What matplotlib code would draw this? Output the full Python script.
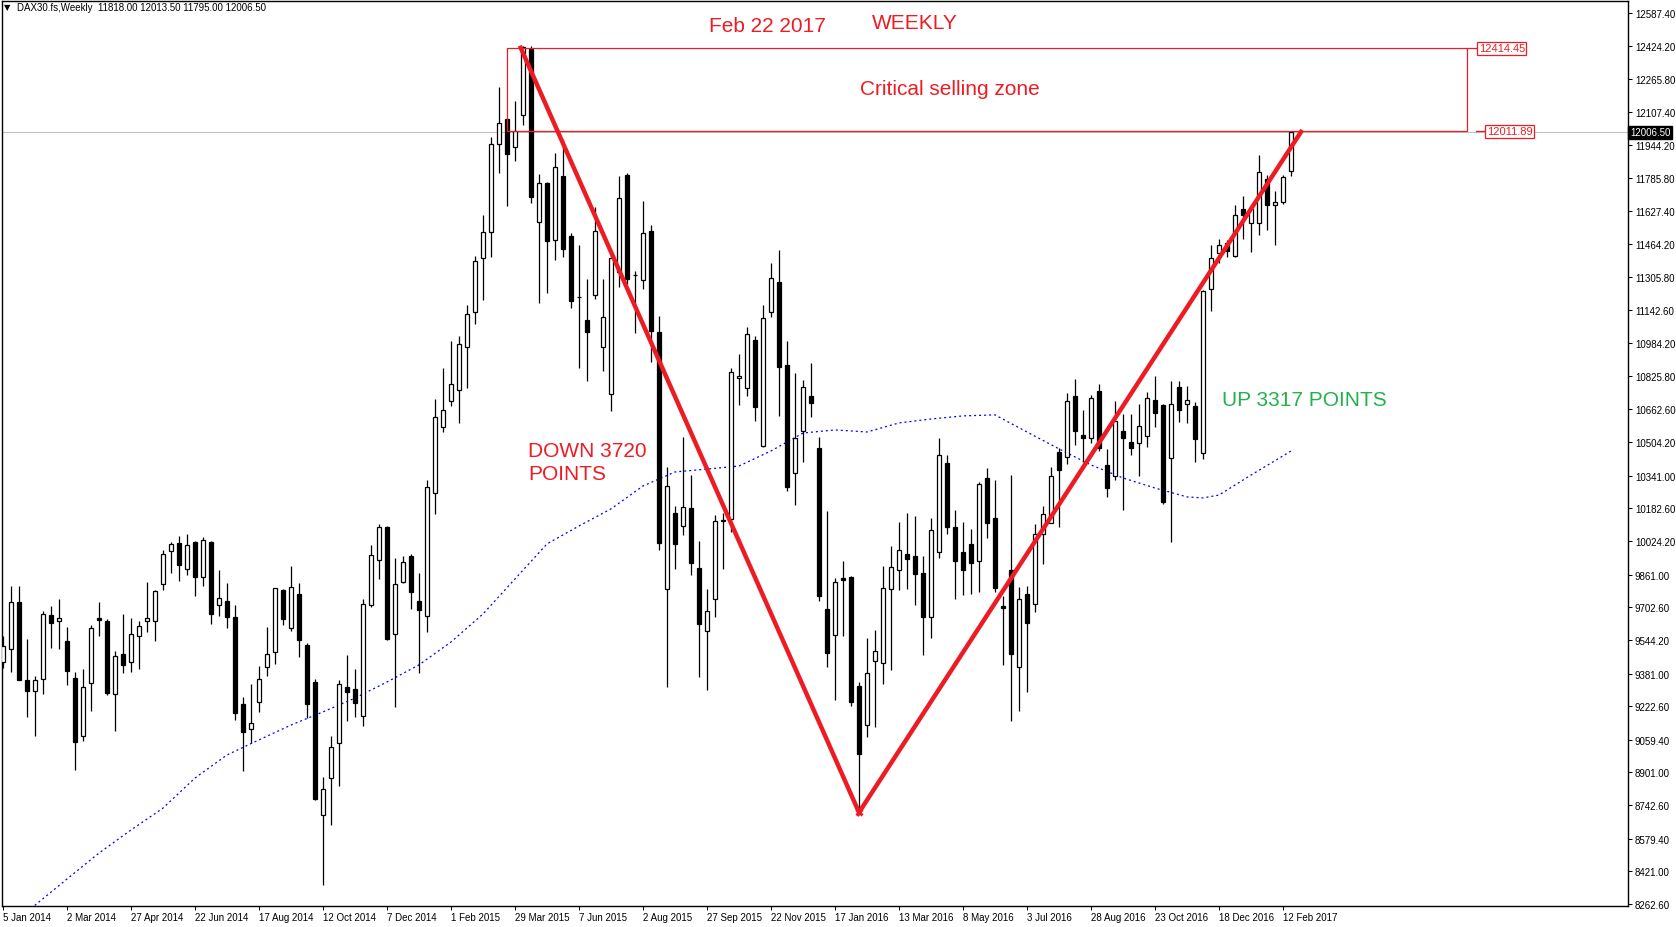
import matplotlib
matplotlib.use("Agg")
import matplotlib.pyplot as plt
import matplotlib.transforms as mtransforms
from matplotlib.patches import Rectangle

plt.rcParams['font.family'] = ['Liberation Sans', 'DejaVu Sans']

# weekly DAX30 candles, bar 0 = 5 Jan 2014
opens = [9436, 9499, 9728, 9350, 9295, 9353, 9663, 9634, 9537, 9358,
         9076, 9337, 9650, 9637, 9280, 9474, 9436, 9565, 9634, 9634,
         9814, 9974, 10014, 9887, 10019, 9851, 10019, 9712, 9733, 9655,
         9233, 9110, 9241, 9411, 9484, 9786, 9600, 9767, 9519, 9340,
         8693, 8872, 9042, 9316, 9304, 9174, 9712, 9930, 10092, 9571,
         9824, 9951, 9733, 9659, 10258, 10576, 10702, 10756, 10964, 11134,
         11398, 11521, 11949, 12072, 11934, 12090, 12411, 11571, 11761, 11483,
         11795, 11504, 11208, 11096, 11217, 10964, 10736, 11327, 11800, 11317,
         11289, 11527, 11037, 9790, 10158, 10099, 10184, 9891, 9586, 9741,
         10123, 10131, 10815, 10765, 11000, 10484, 11134, 11281, 10878, 10353,
         10556, 10728, 10475, 9694, 9569, 9845, 9850, 9321, 9130, 9440,
         9431, 9790, 9882, 9961, 9950, 9867, 9654, 9969, 10401, 10090,
         9969, 10010, 9929, 10328, 10136, 9709, 9882, 9411, 9766, 9717,
         10057, 10113, 10456, 10430, 10728, 10537, 10522, 10753, 10391, 10338,
         10556, 10503, 10498, 10532, 10708, 10684, 10428, 10770, 10687, 10679,
         10451, 11245, 11420, 11470, 11408, 11635, 11568, 11566, 11779, 11653,
         11668, 11818]
highs = [9565, 9806, 9806, 9549, 9369, 9684, 9709, 9743, 9607, 9388,
         9403, 9616, 9728, 9646, 9490, 9670, 9650, 9637, 9827, 9786,
         9980, 10018, 10048, 10058, 10025, 10043, 10025, 9883, 9820, 9714,
         9267, 9330, 9418, 9607, 9796, 9790, 9903, 9822, 9529, 9354,
         8879, 9076, 9350, 9471, 9403, 9743, 10005, 10105, 10098, 9940,
         9950, 9962, 9869, 10320, 10713, 10863, 10994, 11019, 11169, 11405,
         11605, 11984, 12227, 12075, 12159, 12425, 12425, 11806, 11768, 11907,
         11970, 11517, 11460, 11295, 11643, 11295, 11421, 11795, 11810, 11332,
         11672, 11557, 11114, 10385, 10194, 10529, 10344, 10024, 9791, 10150,
         10158, 10863, 10931, 11063, 11019, 11169, 11373, 11436, 10994, 10839,
         10807, 10888, 10527, 10168, 9845, 9927, 9852, 9338, 9552, 9592,
         9903, 10000, 10117, 10160, 10147, 9950, 10137, 10522, 10441, 10175,
         10117, 10082, 10310, 10378, 10320, 9759, 10344, 9801, 9804, 10107,
         10192, 10382, 10475, 10742, 10810, 10660, 10732, 10786, 10471, 10702,
         10639, 10639, 10689, 10746, 10826, 10690, 10799, 10799, 10778, 10697,
         11240, 11461, 11489, 11486, 11654, 11697, 11651, 11897, 11800, 11722,
         11800, 12013.5]
lows = [9409, 9390, 9351, 9172, 9079, 9283, 9506, 9500, 9327, 8913,
        9055, 9201, 9565, 9278, 9104, 9385, 9390, 9403, 9584, 9540,
        9786, 9871, 9832, 9861, 9758, 9807, 9623, 9662, 9603, 9157,
        8909, 9045, 9196, 9370, 9429, 9616, 9589, 9463, 9165, 8769,
        8357, 8648, 8837, 9152, 9172, 9128, 9705, 9840, 9545, 9220,
        9820, 9696, 9384, 9584, 10157, 10554, 10681, 10598, 10768, 11076,
        11195, 11401, 11811, 11651, 11869, 12044, 11666, 11180, 11229, 11388,
        11401, 11156, 10865, 10802, 11198, 10850, 10656, 11255, 11271, 11032,
        11246, 10894, 9982, 9317, 9888, 10054, 9860, 9366, 9303, 9654,
        9888, 10069, 10685, 10729, 10608, 10480, 11111, 10631, 10268, 10200,
        10406, 10627, 9735, 9414, 9254, 9565, 9225, 8699, 9074, 9123,
        9330, 9400, 9788, 9791, 9715, 9472, 9555, 9940, 10056, 9741,
        9764, 9769, 9775, 10040, 9775, 9424, 9152, 9201, 9293, 9678,
        9914, 10110, 10090, 10399, 10490, 10406, 10501, 10461, 10238, 10319,
        10175, 10443, 10341, 10482, 10579, 10202, 10021, 10603, 10595, 10406,
        10422, 11141, 11375, 11401, 11403, 11489, 11427, 11510, 11534, 11461,
        11660, 11795]
closes = [9513, 9727, 9351, 9295, 9350, 9668, 9628, 9649, 9395, 9047,
          9316, 9600, 9642, 9288, 9465, 9424, 9571, 9610, 9650, 9781,
          9961, 10008, 9909, 10005, 9851, 10029, 9671, 9746, 9657, 9191,
          9099, 9141, 9353, 9474, 9795, 9647, 9799, 9545, 9235, 8772,
          8821, 9023, 9329, 9290, 9237, 9717, 9955, 10091, 9549, 9814,
          9921, 9778, 9688, 10285, 10624, 10658, 10784, 10979, 11124, 11385,
          11521, 11949, 12051, 11903, 12012, 12421, 11695, 11761, 11481, 11837,
          11442, 11190, 11206, 11040, 11527, 11110, 11395, 11687, 11294, 11317,
          11517, 11044, 10013, 10290, 10008, 10189, 9919, 9623, 9683, 10120,
          10125, 10843, 10826, 11027, 10676, 11106, 11299, 10870, 10288, 10522,
          10770, 10695, 9759, 9482, 9824, 9834, 9244, 8992, 9382, 9489,
          9795, 9896, 9979, 9935, 9863, 9654, 10076, 10440, 10094, 9926,
          9885, 9916, 10299, 10113, 9797, 9698, 9477, 9741, 9625, 10057,
          10154, 10338, 10367, 10702, 10559, 10525, 10716, 10477, 10283, 10605,
          10522, 10477, 10580, 10716, 10647, 10215, 10687, 10660, 10707, 10520,
          11237, 11395, 11459, 11431, 11604, 11607, 11635, 11813, 11656, 11668,
          11789, 12006.5]

# blue dotted moving average, read at these bars
ma_bars = [3, 8, 12, 16, 20, 24, 28, 32, 36, 40, 44, 48, 52, 56, 60, 64, 68,
           72, 76, 80, 84, 88, 92, 96, 100, 104, 108, 112, 116, 120, 124, 128,
           132, 136, 140, 144, 148, 150, 152, 156, 160, 161]
ma_values = [8225, 8384, 8510, 8622, 8728, 8874, 8986, 9059, 9131, 9195, 9262,
             9340, 9423, 9534, 9670, 9840, 10010, 10097, 10180, 10291, 10359,
             10373, 10388, 10461, 10548, 10563, 10553, 10597, 10616, 10631,
             10636, 10553, 10471, 10393, 10330, 10281, 10238, 10233, 10247,
             10344, 10437, 10461]

date_labels = ['5 Jan 2014', '2 Mar 2014', '27 Apr 2014', '22 Jun 2014',
               '17 Aug 2014', '12 Oct 2014', '7 Dec 2014', '1 Feb 2015',
               '29 Mar 2015', '7 Jun 2015', '2 Aug 2015', '27 Sep 2015',
               '22 Nov 2015', '17 Jan 2016', '13 Mar 2016', '8 May 2016',
               '3 Jul 2016', '28 Aug 2016', '23 Oct 2016', '18 Dec 2016',
               '12 Feb 2017']
price_ticks = [12587.40, 12424.20, 12265.80, 12107.40, 11944.20, 11785.80,
               11627.40, 11464.20, 11305.80, 11142.60, 10984.20, 10825.80,
               10662.60, 10504.20, 10341.00, 10182.60, 10024.20, 9861.00,
               9702.60, 9544.20, 9381.00, 9222.60, 9059.40, 8901.00, 8742.60,
               8579.40, 8421.00, 8262.60]

# V trend lines and selling zone
trend_x = [64.6, 107, 162.4]
trend_y = [12427, 8707, 12018]
zone_top = 12414.45
zone_bottom = 12011.89
zone_left = 63
zone_right = 183
last_price = 12006.5

RED = '#ed1c24'
GREEN = '#22b14c'

fig = plt.figure(figsize=(16.76, 9.28), dpi=100)
ax = fig.add_axes([2 / 1676, 21 / 928, 1626 / 1676, 905 / 928])
ax.set_xlim(-0.125, 203.125)
ax.set_ylim(8253, 12644.2)

n = len(opens)
xs = list(range(n))

# current price line
ax.axhline(last_price, color='#c0c0c0', lw=0.75, zorder=1)

# moving average
ax.plot(ma_bars, ma_values, color='blue', lw=0.9, linestyle=(0, (1.6, 2.4)), zorder=2)

# candles
for i in xs:
    o, h, l, c = opens[i], highs[i], lows[i], closes[i]
    ax.vlines(i, l, h, color='black', lw=0.9, zorder=3)
    up = c >= o
    ax.bar(i, abs(c - o), bottom=min(o, c), width=0.62,
           facecolor='white' if up else 'black', edgecolor='black',
           linewidth=0.9, zorder=4)

# selling zone rectangle + price labels
ax.add_patch(Rectangle((zone_left, zone_bottom), zone_right - zone_left,
                       zone_top - zone_bottom, fill=False, edgecolor=RED,
                       lw=0.9, zorder=5))
ax.plot([zone_right, 184.4], [zone_top, zone_top], color=RED, lw=0.9, zorder=5)
ax.plot([184.1, 185.4], [zone_bottom, zone_bottom], color=RED, lw=0.9, zorder=5)
box = dict(boxstyle='square,pad=0.12', facecolor='white', edgecolor=RED, lw=0.9)
ax.text(184.45, zone_top, '%.2f' % zone_top, color=RED, fontsize=8,
        va='center', ha='left', bbox=box, zorder=6)
ax.text(185.45, zone_bottom, '%.2f' % zone_bottom, color=RED, fontsize=8,
        va='center', ha='left', bbox=box, zorder=6)

# trend lines
ax.plot(trend_x, trend_y, color=RED, lw=3.2, solid_capstyle='butt',
        solid_joinstyle='miter', zorder=7)
ax.plot([trend_x[1]], [trend_y[1]], marker='x', color=RED, ms=5, mew=2.2, zorder=7)

# annotations
ax.text(95.5, 12524, 'Feb 22 2017', color=RED, fontsize=15, ha='center', va='center', zorder=8)
ax.text(114, 12540, 'WEEKLY', color=RED, fontsize=15, ha='center', va='center', zorder=8)
ax.text(118.4, 12218, 'Critical selling zone', color=RED, fontsize=15,
        ha='center', va='center', zorder=8)
ax.text(65.6, 10408, 'DOWN 3720\nPOINTS', color=RED, fontsize=15, ha='left',
        va='center', linespacing=1.28, zorder=8)
ax.text(152.4, 10713, 'UP 3317 POINTS', color=GREEN, fontsize=15, ha='left',
        va='center', zorder=8)

ax.text(0.0015, 0.9985, '\u25bc', transform=ax.transAxes, fontsize=6,
        va='top', ha='left', family=['DejaVu Sans'])
ax.text(0.0095, 0.9985, 'DAX30.fs,Weekly  11818.00 12013.50 11795.00 12006.50',
        transform=ax.transAxes, fontsize=7, va='top', ha='left')

# axes styling
for s in ax.spines.values():
    s.set_color('black')
    s.set_linewidth(1)
ax.yaxis.tick_right()
ax.set_yticks(price_ticks)
ax.set_yticklabels(['%.2f' % t for t in price_ticks])
ax.tick_params(axis='y', direction='out', length=3, width=0.75, pad=2, labelsize=7)
ax.set_xticks(range(0, 8 * len(date_labels), 8))
ax.set_xticklabels(date_labels)
for lab in ax.get_xticklabels():
    lab.set_ha('left')
ax.tick_params(axis='x', direction='out', length=3, width=0.75, pad=1.5, labelsize=7)

trans = mtransforms.blended_transform_factory(ax.transAxes, ax.transData)
ax.text(1.0012, last_price, '%.2f' % last_price, transform=trans, color='white',
        fontsize=7, va='center', ha='left',
        bbox=dict(boxstyle='square,pad=0.15', facecolor='black', edgecolor='black'),
        zorder=9, clip_on=False)

fig.savefig('out.png', dpi=100)
